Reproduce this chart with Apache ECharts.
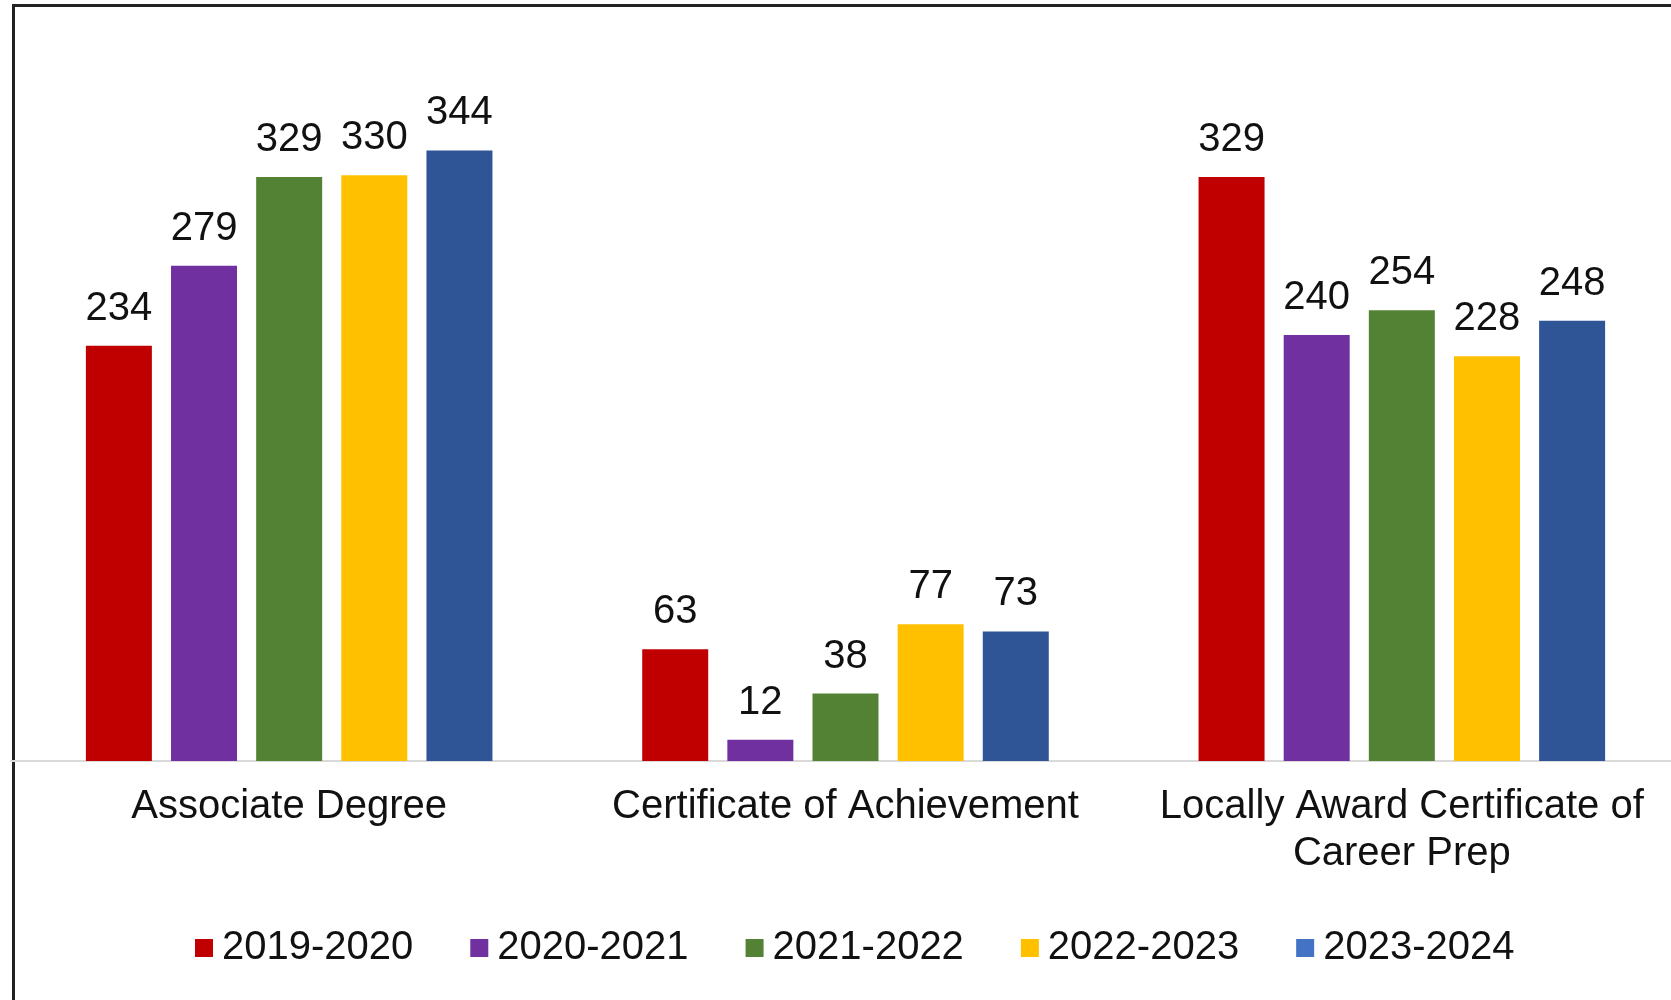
<!DOCTYPE html>
<html>
<head>
<meta charset="utf-8">
<script src="https://cdn.jsdelivr.net/npm/echarts@6/dist/echarts.min.js"></script>
<style>
  html, body { margin: 0; padding: 0; background: #fff; }
  #chart { width: 1671px; height: 1000px; }
</style>
</head>
<body>
<div id="chart"></div>
<script>
var categories = ['Associate Degree', 'Certificate of Achievement', 'Locally Award Certificate of\nCareer Prep'];
var years = ['2019-2020', '2020-2021', '2021-2022', '2022-2023', '2023-2024'];

var y2019 = [234, 63, 329];
var y2020 = [279, 12, 240];
var y2021 = [329, 38, 254];
var y2022 = [330, 77, 228];
var y2023 = [344, 73, 248];

var barColors = ['#C00000', '#7030A0', '#548235', '#FFC000', '#2F5597'];
var legendColors = ['#C00000', '#7030A0', '#548235', '#FFC000', '#4472C4'];

var font = 'Liberation Sans, Arial, sans-serif';

var makeSeries = function(name, values, color) {
  return {
    name: name,
    type: 'bar',
    data: values,
    barWidth: 66,
    barGap: '29%',
    itemStyle: { color: color },
    label: {
      show: true,
      position: 'top',
      distance: 17,
      color: '#111',
      fontSize: 40,
      fontFamily: font
    }
  };
};

var chart = echarts.init(document.getElementById('chart'));

chartSettings = {
  backgroundColor: '#fff',
  animation: false,
  grid: { left: 11, width: 1669, top: 51, bottom: 239, outerBoundsMode: 'none', containLabel: false },
  legend: {
    left: 190,
    top: 921,
    itemWidth: 18,
    itemHeight: 18,
    itemGap: 57,
    icon: 'rect',
    textStyle: { fontSize: 40, fontFamily: font, color: '#111', lineHeight: 44, padding: [0, 0, 0, 4] },
    data: years.map(function(y, i) {
      return { name: y, itemStyle: { color: legendColors[i] } };
    })
  },
  xAxis: {
    type: 'category',
    data: categories,
    axisLine: { lineStyle: { color: '#d9d9d9', width: 2 } },
    axisTick: { show: false },
    axisLabel: {
      interval: 0,
      margin: 22,
      fontSize: 40,
      lineHeight: 47,
      fontFamily: font,
      color: '#111'
    }
  },
  yAxis: {
    type: 'value',
    min: 0,
    max: 400,
    show: false,
    splitLine: { show: false }
  },
  graphic: [{
    type: 'rect',
    silent: true,
    shape: { x: 13.5, y: 5.5, width: 1800, height: 1200 },
    style: { fill: 'none', stroke: '#222', lineWidth: 3 }
  }],
  series: [
    makeSeries(years[0], y2019, barColors[0]),
    makeSeries(years[1], y2020, barColors[1]),
    makeSeries(years[2], y2021, barColors[2]),
    makeSeries(years[3], y2022, barColors[3]),
    makeSeries(years[4], y2023, barColors[4])
  ]
};

chart.setOption(chartSettings);
</script>
</body>
</html>
